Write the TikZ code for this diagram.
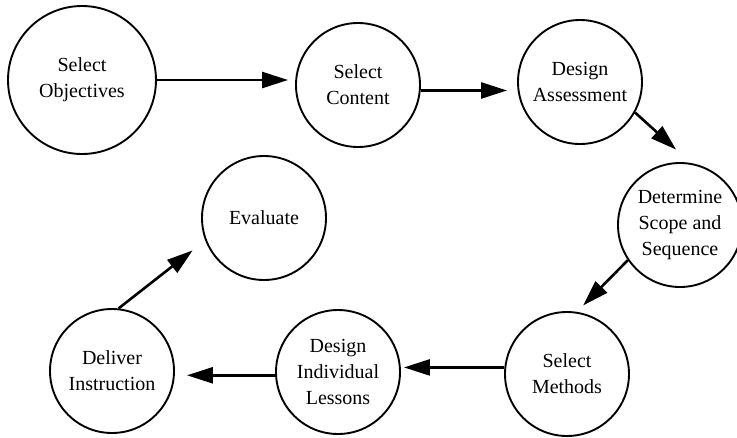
\documentclass[tikz,border=0pt]{standalone}
\usepackage{fontspec}
\setmainfont{Liberation Serif}
\usetikzlibrary{arrows.meta}

\begin{document}
\begin{tikzpicture}[x=1pt, y=-1pt,
		main/.style = {draw, circle, line width=1.9pt, minimum size=124pt, inner sep=0pt, align=center, font=\fontsize{20}{26}\selectfont},
		flow/.style = {line width=2.6pt, -{Triangle[length=26pt,width=16pt]}}]
		\useasboundingbox (0,0) rectangle (737,437);
		\node[main, minimum size=148pt] (obj) at (82,80) {Select\\Objectives};
		\node[main] (cont) at (358,85) {Select\\Content};
		\node[main] (assess) at (580,82) {Design\\Assessment};
		\node[main] (scope) at (680,225) {Determine\\Scope and\\Sequence};
		\node[main] (meth) at (567,374) {Select\\Methods};
		\node[main] (less) at (338,372) {Design\\Individual\\Lessons};
		\node[main] (deliv) at (112,371) {Deliver\\Instruction};
		\node[main] (eval) at (264,218) {Evaluate};
		
		\draw[flow, shorten >=7pt] (obj.east) -- (obj.east -| cont.west);
		\draw[flow, shorten >=10pt] (cont.-5) -- (cont.-5 -| assess.west);
		\draw[flow, shorten >=20pt] (assess.-29) -- (scope.80);
		\draw[flow, shorten >=9pt] (scope.214) -- (meth.81);
		\draw[flow, shorten >=3pt] (meth.174) -- (meth.174 -| less.east);
		\draw[flow, shorten >=12pt] (less.183) -- (less.183 -| deliv.east);
		\draw[flow, shorten >=16pt] (deliv.84) -- (eval.201);
	\end{tikzpicture}
\end{document}
